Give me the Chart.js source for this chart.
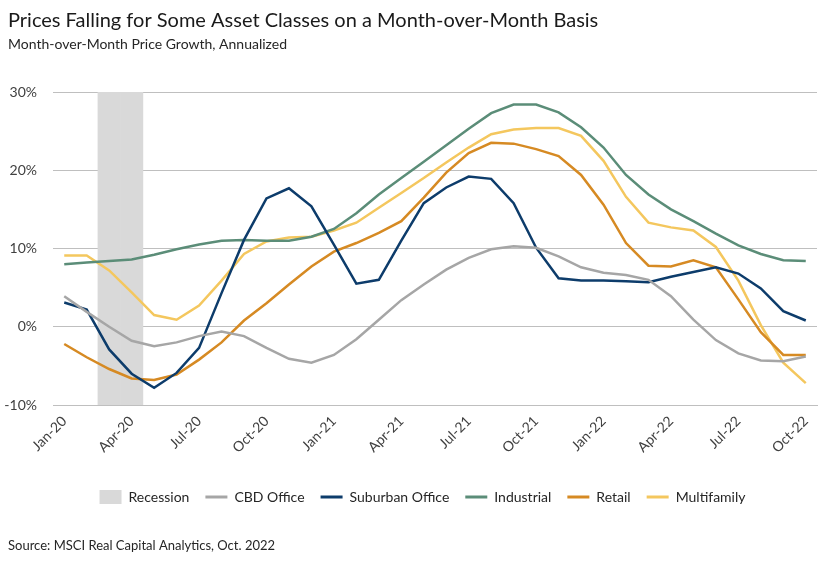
<!DOCTYPE html>
<html><head><meta charset="utf-8">
<script src="https://cdn.jsdelivr.net/npm/chart.js@4.4.0/dist/chart.umd.min.js"></script>
<style>html,body{margin:0;padding:0;background:#fff}</style>
</head><body>
<canvas id="c" width="830" height="561"></canvas>
<script>
const months = ['Jan-20','Feb-20','Mar-20','Apr-20','May-20','Jun-20','Jul-20','Aug-20','Sep-20','Oct-20','Nov-20','Dec-20',
  'Jan-21','Feb-21','Mar-21','Apr-21','May-21','Jun-21','Jul-21','Aug-21','Sep-21','Oct-21','Nov-21','Dec-21',
  'Jan-22','Feb-22','Mar-22','Apr-22','May-22','Jun-22','Jul-22','Aug-22','Sep-22','Oct-22'];
const recession = [0,0,1,1,0,0,0,0,0,0,0,0, 0,0,0,0,0,0,0,0,0,0,0,0, 0,0,0,0,0,0,0,0,0,0];
const cbdOffice = [3.9,1.9,0.0,-1.8,-2.5,-2.0,-1.2,-0.6,-1.2,-2.7,-4.1,-4.6,
  -3.6,-1.6,0.9,3.4,5.4,7.3,8.8,9.9,10.3,10.1,9.0,7.6,
  6.9,6.6,6.0,3.9,0.9,-1.7,-3.4,-4.3,-4.4,-3.8];
const suburbanOffice = [3.1,2.2,-2.9,-6.0,-7.8,-5.9,-2.7,4.3,11.1,16.4,17.7,15.4,
  10.5,5.5,6.0,11.0,15.8,17.8,19.2,18.9,15.8,10.1,6.2,5.9,
  5.9,5.8,5.7,6.4,7.0,7.6,6.8,4.9,2.0,0.8];
const industrial = [8.0,8.2,8.4,8.6,9.2,9.9,10.5,11.0,11.1,11.0,11.0,11.5,
  12.5,14.5,16.9,19.0,21.1,23.2,25.3,27.3,28.4,28.4,27.4,25.5,
  22.9,19.4,16.9,15.0,13.5,11.9,10.4,9.3,8.5,8.4];
const retail = [-2.2,-3.9,-5.4,-6.6,-6.8,-6.1,-4.2,-2.0,0.8,3.0,5.4,7.7,
  9.6,10.7,12.0,13.5,16.5,19.7,22.2,23.5,23.4,22.7,21.8,19.4,
  15.6,10.7,7.8,7.7,8.5,7.6,3.5,-0.7,-3.6,-3.6];
const multifamily = [9.1,9.1,7.2,4.4,1.5,0.9,2.7,5.9,9.3,10.9,11.4,11.5,
  12.3,13.3,15.2,17.1,19.0,21.0,22.9,24.6,25.2,25.4,25.4,24.4,
  21.2,16.6,13.3,12.7,12.3,10.2,5.9,0.2,-4.6,-7.2];
const yMin = -10, yMax = 30, yStep = 10;
const titleText = 'Prices Falling for Some Asset Classes on a Month-over-Month Basis';
const subtitleText = 'Month-over-Month Price Growth, Annualized';
const sourceText = 'Source: MSCI Real Capital Analytics, Oct. 2022';

const FONT = 'Lato, "Noto Sans", sans-serif';
Chart.defaults.font.family = FONT;

const textPlugin = {
  id: 'texts',
  afterLayout(chart) {
    // nudge the legend row to the right, as in the reference
    if (chart.legend) { chart.legend.left += 14; chart.legend.right += 14; }
  },
  afterDraw(chart) {
    const ctx = chart.ctx;
    ctx.save();
    ctx.textBaseline = 'middle';
    ctx.textAlign = 'left';
    ctx.font = '20px ' + FONT;
    ctx.fillStyle = '#1a1a1a';
    ctx.fillText(titleText, 8, 21);
    ctx.font = '14px ' + FONT;
    ctx.fillStyle = '#262626';
    ctx.fillText(subtitleText, 8, 44);
    ctx.font = '13px ' + FONT;
    ctx.fillText(sourceText, 8, 546);
    ctx.restore();
  }
};

function lineDs(label, data, color) {
  return { type: 'line', label, data, borderColor: color, backgroundColor: color,
    borderWidth: 2.5, pointRadius: 0, tension: 0, fill: false, order: 0 };
}

new Chart(document.getElementById('c'), {
  type: 'line',
  data: {
    labels: months,
    datasets: [
      { type: 'bar', label: 'Recession', data: recession.map(f => f ? [yMin, yMax] : null),
        backgroundColor: '#d9d9d9', borderWidth: 0, barPercentage: 1, categoryPercentage: 1, order: 1 },
      lineDs('CBD Office', cbdOffice, '#a6a6a6'),
      lineDs('Suburban Office', suburbanOffice, '#0d3c6b'),
      lineDs('Industrial', industrial, '#5b8d78'),
      lineDs('Retail', retail, '#d68a23'),
      lineDs('Multifamily', multifamily, '#f4c75e')
    ]
  },
  options: {
    responsive: false, animation: false, devicePixelRatio: 1,
    layout: { padding: { left: 0, right: 13, top: 92, bottom: 47 } },
    plugins: {
      title: { display: false },
      legend: {
        position: 'bottom',
        labels: {
          usePointStyle: true, pointStyleWidth: 22, boxHeight: 14, padding: 16,
          color: '#262626', font: { size: 14 },
          sort: (a, b) => a.datasetIndex - b.datasetIndex,
          generateLabels(chart) {
            const items = Chart.defaults.plugins.legend.labels.generateLabels(chart);
            return items.map(it => {
              const ds = chart.data.datasets[it.datasetIndex];
              if (ds.type === 'bar') {
                it.pointStyle = 'rect'; it.fillStyle = '#d9d9d9'; it.strokeStyle = '#d9d9d9'; it.lineWidth = 0;
              } else {
                it.pointStyle = 'line'; it.strokeStyle = ds.borderColor; it.lineWidth = 3;
              }
              return it;
            });
          }
        }
      },
      tooltip: { enabled: false }
    },
    scales: {
      x: {
        type: 'category', offset: true,
        grid: { display: false, drawTicks: false },
        border: { display: true, color: '#bfbfbf' },
        ticks: { autoSkip: false, maxRotation: 45, minRotation: 45, padding: 8,
          color: '#404040', font: { size: 14 },
          callback: (v, i) => (i % 3 === 0 ? months[i] : '') },
        afterFit(s) { s.height = 69; }
      },
      y: {
        min: yMin, max: yMax,
        ticks: { stepSize: yStep, padding: 16, color: '#404040', font: { size: 14 },
          callback: v => v + '%' },
        grid: { color: '#bfbfbf', drawTicks: false },
        border: { display: false },
        afterFit(s) { s.width = 53; }
      }
    }
  },
  plugins: [textPlugin]
});
</script>
</body></html>
